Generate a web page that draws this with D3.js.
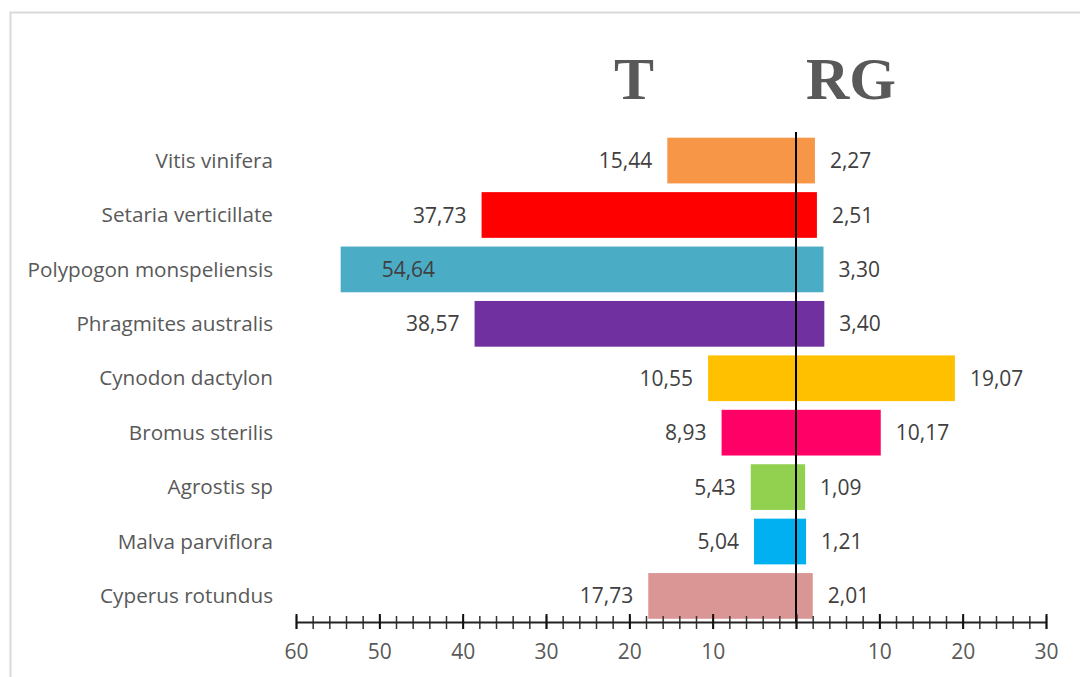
<!DOCTYPE html>
<html>
<head>
<meta charset="utf-8">
<script src="https://cdn.jsdelivr.net/npm/d3@7"></script>
<style>
    body { margin: 0; background: #fff; }
    svg { display: block; }
</style>
</head>
<body>
<div id="chart"></div>
<script>
// Species, top to bottom
const species = ['Vitis vinifera', 'Setaria verticillate', 'Polypogon monspeliensis', 'Phragmites australis',
    'Cynodon dactylon', 'Bromus sterilis', 'Agrostis sp', 'Malva parviflora', 'Cyperus rotundus'];
const valuesT = [15.44, 37.73, 54.64, 38.57, 10.55, 8.93, 5.43, 5.04, 17.73];
const valuesRG = [2.27, 2.51, 3.30, 3.40, 19.07, 10.17, 1.09, 1.21, 2.01];
const barColors = ['#F79646', '#FF0000', '#4BACC6', '#7030A0', '#FFC000', '#FF0066', '#92D050', '#00B0F0', '#DA9694'];
const majorTicks = [-60, -50, -40, -30, -20, -10, 0, 10, 20, 30];
const titles = ['T', 'RG'];

const width = 1080, height = 677;
const svg = d3.select('#chart').append('svg')
    .attr('width', width)
    .attr('height', height);

// chart border
svg.append('rect')
    .attr('x', 10.5).attr('y', 12.5)
    .attr('width', width + 20).attr('height', height + 20)
    .attr('fill', '#fff')
    .attr('stroke', '#d9d9d9')
    .attr('stroke-width', 2);

// one signed scale: T goes left, RG goes right
const x = d3.scaleLinear().domain([-60, 30]).range([296, 1046]);
const y = d3.scaleBand().domain(species).range([129, 627.5]).padding(0.16);
const axisY = 622;
const labelFont = 'Open Sans, sans-serif';

const rows = species.map((name, i) => ({ name, t: valuesT[i], rg: valuesRG[i], color: barColors[i] }));

// bars spanning -T .. RG
svg.append('g')
    .selectAll('rect')
    .data(rows)
    .enter().append('rect')
    .attr('x', d => x(-d.t))
    .attr('y', d => y(d.name))
    .attr('width', d => x(d.rg) - x(-d.t))
    .attr('height', y.bandwidth())
    .attr('fill', d => d.color);

const fmt = v => d3.format('.2f')(v).replace('.', ',');

// category labels
svg.append('g')
    .selectAll('text')
    .data(rows)
    .enter().append('text')
    .attr('x', 273)
    .attr('y', d => y(d.name) + y.bandwidth() / 2)
    .attr('dy', '0.35em')
    .attr('text-anchor', 'end')
    .attr('font-family', labelFont)
    .attr('font-size', 20.7)
    .attr('fill', '#595959')
    .text(d => d.name);

// T value labels (inside the bar when there is no room on the left)
const inside = d => x(-d.t) - 75 < x(-60);
svg.append('g')
    .selectAll('text')
    .data(rows)
    .enter().append('text')
    .attr('x', d => inside(d) ? x(-d.t) + 41 : x(-d.t) - 15)
    .attr('y', d => y(d.name) + y.bandwidth() / 2)
    .attr('dy', '0.36em')
    .attr('text-anchor', d => inside(d) ? 'start' : 'end')
    .attr('font-family', labelFont)
    .attr('font-size', 21)
    .attr('fill', '#404040')
    .text(d => fmt(d.t));

// RG value labels
svg.append('g')
    .selectAll('text')
    .data(rows)
    .enter().append('text')
    .attr('x', d => x(d.rg) + 15)
    .attr('y', d => y(d.name) + y.bandwidth() / 2)
    .attr('dy', '0.36em')
    .attr('font-family', labelFont)
    .attr('font-size', 21)
    .attr('fill', '#404040')
    .text(d => fmt(d.rg));

// zero line
svg.append('line')
    .attr('x1', x(0)).attr('x2', x(0))
    .attr('y1', 132).attr('y2', axisY)
    .attr('stroke', '#000')
    .attr('stroke-width', 2);

// minor ticks every 2 units
const minor = svg.append('g')
    .attr('transform', `translate(0,${axisY})`)
    .call(d3.axisBottom(x).tickValues(d3.range(-60, 31, 2)).tickSize(7).tickFormat(''));
minor.select('.domain').remove();
minor.selectAll('.tick line')
    .attr('y1', -6)
    .attr('stroke', '#333')
    .attr('stroke-width', 1.5);

// major axis
const major = svg.append('g')
    .attr('transform', `translate(0,${axisY})`)
    .call(d3.axisBottom(x).tickValues(majorTicks).tickSize(7).tickSizeOuter(0)
        .tickFormat(d => d === 0 ? '' : Math.abs(d)));
major.select('.domain')
    .attr('stroke', '#222')
    .attr('stroke-width', 2);
major.selectAll('.tick line')
    .attr('y1', -8)
    .attr('stroke', '#111')
    .attr('stroke-width', 2);
major.selectAll('.tick text')
    .attr('y', 22)
    .attr('font-family', labelFont)
    .attr('font-size', 21)
    .attr('fill', '#595959');

// side titles
svg.append('g')
    .selectAll('text')
    .data(titles)
    .enter().append('text')
    .attr('x', (d, i) => i === 0 ? 634 : 851)
    .attr('y', 99)
    .attr('text-anchor', 'middle')
    .attr('font-family', 'Liberation Serif, serif')
    .attr('font-weight', 'bold')
    .attr('font-size', 60)
    .attr('fill', '#595959')
    .text(d => d);
</script>
</body>
</html>
